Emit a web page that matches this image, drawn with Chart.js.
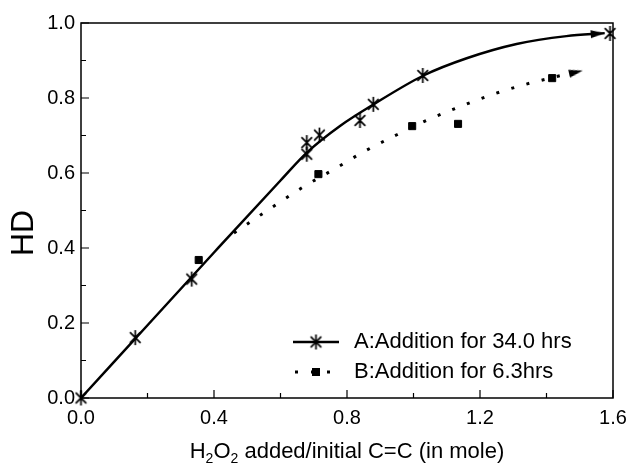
<!DOCTYPE html>
<html lang="en">
<head>
  <meta charset="UTF-8">
  <title>HD vs H2O2 added</title>
  <style>
    html, body { margin: 0; padding: 0; background: #fff; }
  </style>
</head>
<body>
<canvas id="hdChart" width="629" height="464"></canvas>
<script src="https://cdn.jsdelivr.net/npm/chart.js"></script>
<script>
  const aX = [0, 0.163, 0.333, 0.679, 0.679, 0.717, 0.839, 0.879, 1.028, 1.591];
  const aY = [0, 0.161, 0.317, 0.650, 0.681, 0.701, 0.740, 0.783, 0.860, 0.972];
  const bX = [0.354, 0.714, 0.996, 1.134, 1.417];
  const bY = [0.368, 0.597, 0.725, 0.731, 0.853];

  // trend curves as drawn in the figure (arrow at the last point)
  const fitAX = [0, 0.20, 0.40, 0.60, 0.68, 0.78, 0.88, 1.03, 1.16, 1.31, 1.46, 1.575];
  const fitAY = [0, 0.194, 0.388, 0.580, 0.655, 0.726, 0.783, 0.860, 0.906, 0.944, 0.965, 0.973];
  const fitBX = [0.46, 0.572, 0.667, 0.761, 0.855, 0.95, 1.046, 1.14, 1.233, 1.327, 1.42, 1.509];
  const fitBY = [0.440, 0.507, 0.562, 0.610, 0.659, 0.702, 0.743, 0.777, 0.808, 0.834, 0.855, 0.873];

  const labelA = 'A:Addition for 34.0 hrs';
  const labelB = 'B:Addition for 6.3hrs';
  const xRange = [0, 1.6], xStep = 0.4;
  const yRange = [0, 1.0], yStep = 0.2;

  const FONT = "'Liberation Sans', Arial, sans-serif";
  const toPts = (xs, ys) => xs.map((x, i) => ({ x: x, y: ys[i] }));

  // 6-armed asterisk marker
  function makeStar(size) {
    const c = document.createElement('canvas');
    c.width = c.height = size;
    const g = c.getContext('2d');
    const m = size / 2, r = size / 2 - 1;
    g.strokeStyle = '#000';
    g.lineWidth = 1.7;
    g.beginPath();
    [90, 45, -45].forEach(deg => {
      const a = deg * Math.PI / 180;
      g.moveTo(m + r * Math.cos(a), m - r * Math.sin(a));
      g.lineTo(m - r * Math.cos(a), m + r * Math.sin(a));
    });
    g.stroke();
    return c;
  }

  // arrowhead with its tip at the centre of the image
  function makeArrow(len, wid) {
    const c = document.createElement('canvas');
    c.width = len * 2;
    c.height = wid + 2;
    const g = c.getContext('2d');
    g.fillStyle = '#000';
    g.beginPath();
    g.moveTo(0, 1);
    g.lineTo(len, c.height / 2);
    g.lineTo(0, c.height - 1);
    g.closePath();
    g.fill();
    return c;
  }

  const starImg = makeStar(17);
  const arrowImg = makeArrow(14, 8);

  function arrowOpts(xs, ys) {
    const last = xs.length - 1;
    return {
      pointRadius: c => c.dataIndex === last ? 6 : 0,
      pointStyle: c => c.dataIndex === last ? arrowImg : 'circle',
      pointRotation: c => {
        if (c.dataIndex !== last) return 0;
        const sx = c.chart.scales.x, sy = c.chart.scales.y;
        const dx = sx.getPixelForValue(xs[last]) - sx.getPixelForValue(xs[last - 1]);
        const dy = sy.getPixelForValue(ys[last]) - sy.getPixelForValue(ys[last - 1]);
        return Math.atan2(dy, dx) * 180 / Math.PI;
      }
    };
  }

  // frame, inward ticks, axis titles and legend
  const decor = {
    id: 'decor',
    afterDatasetsDraw(chart) {
      const ctx = chart.ctx, a = chart.chartArea;
      const sx = chart.scales.x, sy = chart.scales.y;
      ctx.save();
      ctx.strokeStyle = '#000';
      ctx.lineWidth = 1.5;
      ctx.strokeRect(a.left, a.top, a.right - a.left, a.bottom - a.top);

      ctx.lineWidth = 1.2;
      ctx.beginPath();
      const xt = sx.ticks.map(t => t.value);
      xt.forEach((v, i) => {
        const px = sx.getPixelForValue(v);
        ctx.moveTo(px, a.bottom); ctx.lineTo(px, a.bottom - 8);
        if (i < xt.length - 1) {
          const mx = sx.getPixelForValue((v + xt[i + 1]) / 2);
          ctx.moveTo(mx, a.bottom); ctx.lineTo(mx, a.bottom - 5);
        }
      });
      const yt = sy.ticks.map(t => t.value);
      yt.forEach((v, i) => {
        const py = sy.getPixelForValue(v);
        ctx.moveTo(a.left, py); ctx.lineTo(a.left + 8, py);
        if (i < yt.length - 1) {
          const my = sy.getPixelForValue((v + yt[i + 1]) / 2);
          ctx.moveTo(a.left, my); ctx.lineTo(a.left + 5, my);
        }
      });
      ctx.stroke();

      // y title
      ctx.fillStyle = '#000';
      ctx.save();
      ctx.translate(24, a.top + (a.bottom - a.top) * 0.56);
      ctx.rotate(-Math.PI / 2);
      ctx.font = '32px ' + FONT;
      ctx.textAlign = 'center';
      ctx.textBaseline = 'middle';
      ctx.fillText('HD', 0, 0);
      ctx.restore();

      // x title with subscripts
      const parts = [['H', 0], ['2', 1], ['O', 0], ['2', 1], [' added/initial C=C (in mole)', 0]];
      const big = '22px ' + FONT, small = '14px ' + FONT;
      let total = 0;
      parts.forEach(p => { ctx.font = p[1] ? small : big; total += ctx.measureText(p[0]).width; });
      let x = (a.left + a.right) / 2 - total / 2;
      const base = 458;
      ctx.textAlign = 'left';
      ctx.textBaseline = 'alphabetic';
      parts.forEach(p => {
        ctx.font = p[1] ? small : big;
        ctx.fillText(p[0], x, p[1] ? base + 5 : base);
        x += ctx.measureText(p[0]).width;
      });

      // legend
      const lx0 = a.right - 320, lx1 = a.right - 274, tx = a.right - 259;
      const r1 = a.bottom - 56, r2 = a.bottom - 26;
      ctx.lineWidth = 2.5;
      ctx.beginPath();
      ctx.moveTo(lx0, r1); ctx.lineTo(lx1, r1);
      ctx.stroke();
      ctx.drawImage(starImg, (lx0 + lx1) / 2 - 8.5, r1 - 8.5);
      ctx.lineWidth = 3;
      ctx.setLineDash([3, 13]);
      ctx.beginPath();
      ctx.moveTo(lx0 + 2, r2); ctx.lineTo(lx1, r2);
      ctx.stroke();
      ctx.setLineDash([]);
      ctx.fillRect((lx0 + lx1) / 2 - 4, r2 - 4, 8, 8);
      ctx.font = '22px ' + FONT;
      ctx.textBaseline = 'middle';
      ctx.fillText(labelA, tx, r1);
      ctx.fillText(labelB, tx, r2);
      ctx.restore();
    }
  };

  const tickFont = { family: FONT, size: 20 };

  new Chart(document.getElementById('hdChart'), {
    type: 'scatter',
    data: {
      datasets: [
        {
          label: labelA,
          data: toPts(aX, aY),
          pointStyle: starImg,
          pointRadius: 8,
          showLine: false,
          clip: false,
          order: 0
        },
        {
          label: labelB,
          data: toPts(bX, bY),
          pointStyle: 'rect',
          pointRadius: 5,
          backgroundColor: '#000',
          borderColor: '#000',
          borderWidth: 1,
          showLine: false,
          clip: false,
          order: 0
        },
        Object.assign({
          label: 'fit A',
          data: toPts(fitAX, fitAY),
          showLine: true,
          borderColor: '#000',
          backgroundColor: '#000',
          borderWidth: 2.5,
          cubicInterpolationMode: 'monotone',
          clip: false,
          order: 1
        }, arrowOpts(fitAX, fitAY)),
        Object.assign({
          label: 'fit B',
          data: toPts(fitBX, fitBY),
          showLine: true,
          borderColor: '#000',
          backgroundColor: '#000',
          borderWidth: 3,
          borderDash: [3, 12.7],
          cubicInterpolationMode: 'monotone',
          clip: false,
          order: 1
        }, arrowOpts(fitBX, fitBY))
      ]
    },
    options: {
      responsive: false,
      animation: false,
      events: [],
      layout: { padding: { top: 23, right: 16, left: 0, bottom: 0 } },
      plugins: {
        legend: { display: false },
        tooltip: { enabled: false }
      },
      scales: {
        x: {
          type: 'linear',
          min: xRange[0],
          max: xRange[1],
          grid: { display: false, drawTicks: false },
          border: { display: false },
          ticks: {
            stepSize: xStep,
            color: '#000',
            font: tickFont,
            padding: 8,
            maxRotation: 0,
            callback: v => v.toFixed(1)
          },
          afterFit: s => { s.height = 66; s.paddingLeft = 0; s.paddingRight = 0; }
        },
        y: {
          type: 'linear',
          min: yRange[0],
          max: yRange[1],
          grid: { display: false, drawTicks: false },
          border: { display: false },
          ticks: {
            stepSize: yStep,
            color: '#000',
            font: tickFont,
            padding: 6,
            callback: v => v.toFixed(1)
          },
          afterFit: s => { s.width = 81; s.paddingTop = 0; s.paddingBottom = 0; }
        }
      }
    },
    plugins: [decor]
  });
</script>
</body>
</html>
